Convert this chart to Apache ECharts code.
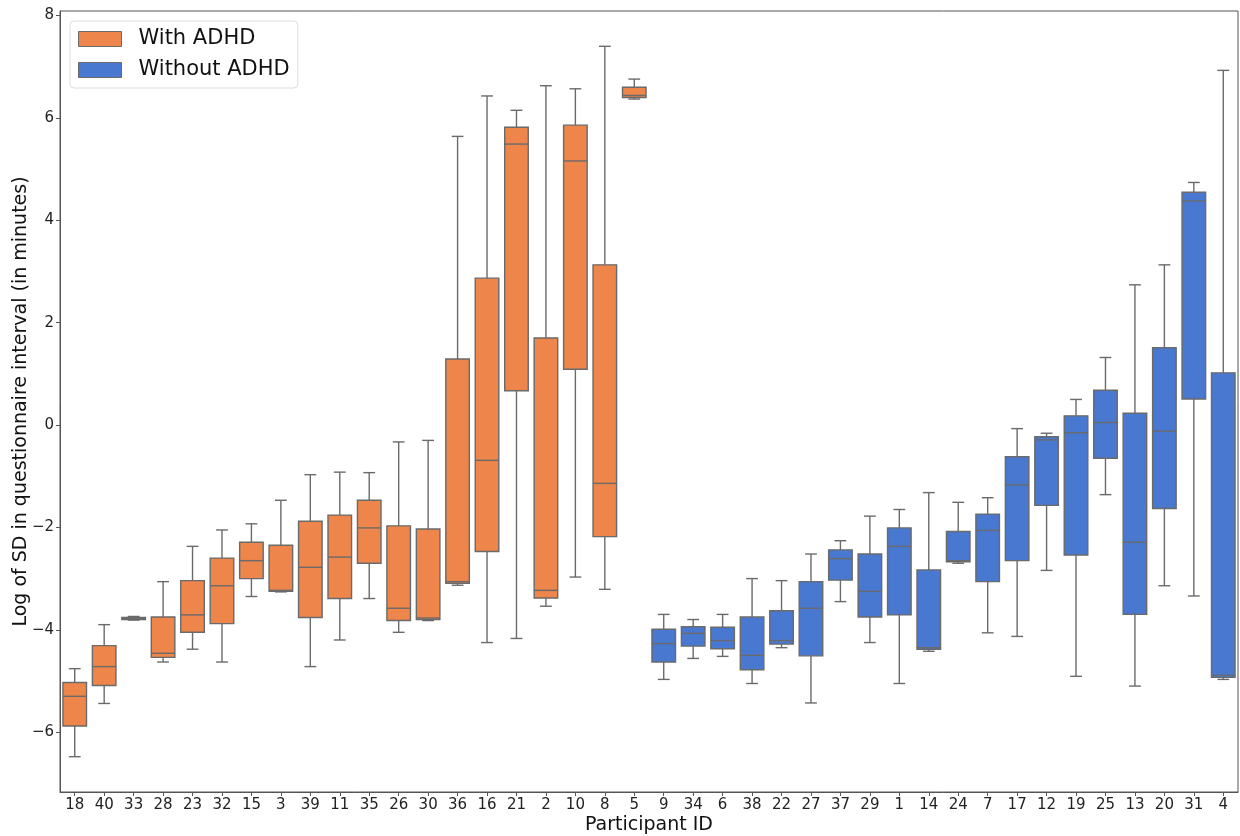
<!DOCTYPE html>
<html>
<head>
<meta charset="utf-8">
<script src="https://cdn.jsdelivr.net/npm/echarts@6/dist/echarts.min.js"></script>
<style>
  html, body { margin: 0; padding: 0; background: #fff; }
  #chart { width: 1240px; height: 836px; }
</style>
</head>
<body>
<div id="chart"></div>
<script>
// Participants with ADHD (box summaries: min, Q1, median, Q3, max of log SD)
const adhdIds    = ['18','40','33','28','23','32','15','3','39','11','35','26','30','36','16','21','2','10','8','5'];
const adhdMin    = [-6.48,-5.44,-3.81,-4.63,-4.38,-4.63,-3.35,-3.26,-4.72,-4.20,-3.39,-4.05,-3.82,-3.13,-4.25,-4.17,-3.54,-2.97,-3.21,6.37];
const adhdQ1     = [-5.88,-5.09,-3.80,-4.54,-4.05,-3.88,-3.00,-3.25,-3.76,-3.39,-2.70,-3.82,-3.80,-3.09,-2.47,0.67,-3.38,1.09,-2.18,6.40];
const adhdMedian = [-5.30,-4.72,-3.78,-4.46,-3.71,-3.14,-2.65,-3.23,-2.78,-2.58,-2.01,-3.58,-3.77,-3.06,-0.69,5.49,-3.23,5.16,-1.14,6.44];
const adhdQ3     = [-5.03,-4.31,-3.76,-3.75,-3.04,-2.60,-2.29,-2.35,-1.88,-1.76,-1.47,-1.97,-2.03,1.29,2.87,5.82,1.70,5.86,3.13,6.60];
const adhdMax    = [-4.76,-3.90,-3.74,-3.06,-2.37,-2.05,-1.93,-1.47,-0.97,-0.92,-0.93,-0.33,-0.30,5.64,6.43,6.15,6.63,6.57,7.40,6.76];

// Participants without ADHD
const ctrlIds    = ['9','34','6','38','22','27','37','29','1','14','24','7','17','12','19','25','13','20','31','4'];
const ctrlMin    = [-4.97,-4.56,-4.52,-5.05,-4.35,-5.43,-3.45,-4.25,-5.05,-4.42,-2.70,-4.06,-4.13,-2.84,-4.91,-1.36,-5.10,-3.14,-3.34,-4.97];
const ctrlQ1     = [-4.63,-4.32,-4.37,-4.78,-4.28,-4.51,-3.03,-3.75,-3.71,-4.38,-2.67,-3.06,-2.65,-1.57,-2.54,-0.65,-3.70,-1.63,0.51,-4.93];
const ctrlMedian = [-4.27,-4.07,-4.21,-4.50,-4.21,-3.58,-2.61,-3.25,-2.37,-4.35,-2.65,-2.06,-1.17,-0.29,-0.15,0.05,-2.29,-0.12,4.38,-4.89];
const ctrlQ3     = [-3.99,-3.94,-3.95,-3.75,-3.63,-3.06,-2.44,-2.52,-2.01,-2.83,-2.08,-1.74,-0.62,-0.23,0.18,0.68,0.23,1.51,4.55,1.02];
const ctrlMax    = [-3.70,-3.80,-3.70,-3.00,-3.04,-2.52,-2.26,-1.78,-1.65,-1.32,-1.51,-1.42,-0.07,-0.16,0.50,1.32,2.74,3.13,4.74,6.93];

const yTicks = [-6, -4, -2, 0, 2, 4, 6, 8];

const ORANGE = '#ee854a';
const BLUE = '#4878d0';
const LINE = '#6a6a6a';

const categories = adhdIds.concat(ctrlIds);

function buildRows(offset, mins, q1s, meds, q3s, maxs) {
  return mins.map((_, i) => [offset + i, mins[i], q1s[i], meds[i], q3s[i], maxs[i]]);
}
const adhdRows = buildRows(0, adhdMin, adhdQ1, adhdMedian, adhdQ3, adhdMax);
const ctrlRows = buildRows(adhdIds.length, ctrlMin, ctrlQ1, ctrlMedian, ctrlQ3, ctrlMax);

// One box: whiskers with short caps, filled box, median line
function renderBox(params, api) {
  const x = api.value(0);
  const band = api.size([1, 0])[0];
  const w = band * 0.8;
  const cap = w * 0.5;
  const pMin = api.coord([x, api.value(1)]);
  const pQ1 = api.coord([x, api.value(2)]);
  const pMed = api.coord([x, api.value(3)]);
  const pQ3 = api.coord([x, api.value(4)]);
  const pMax = api.coord([x, api.value(5)]);
  const cx = pMed[0];
  const fill = api.visual('color');
  const line = { stroke: LINE, lineWidth: 1.4 };
  return {
    type: 'group',
    children: [
      { type: 'line', shape: { x1: cx, y1: pQ3[1], x2: cx, y2: pMax[1] }, style: line },
      { type: 'line', shape: { x1: cx, y1: pQ1[1], x2: cx, y2: pMin[1] }, style: line },
      { type: 'line', shape: { x1: cx - cap / 2, y1: pMax[1], x2: cx + cap / 2, y2: pMax[1] }, style: line },
      { type: 'line', shape: { x1: cx - cap / 2, y1: pMin[1], x2: cx + cap / 2, y2: pMin[1] }, style: line },
      { type: 'rect', shape: { x: cx - w / 2, y: pQ3[1], width: w, height: pQ1[1] - pQ3[1] },
        style: { fill: fill, stroke: LINE, lineWidth: 1.4 } },
      { type: 'line', shape: { x1: cx - w / 2, y1: pMed[1], x2: cx + w / 2, y2: pMed[1] }, style: line }
    ]
  };
}

const chart = echarts.init(document.getElementById('chart'), null, { renderer: 'canvas' });

const fmtMinus = v => (v < 0 ? '\u2212' + Math.abs(v) : String(v));

chart.setOption({
  animation: false,
  backgroundColor: '#ffffff',
  textStyle: { fontFamily: 'DejaVu Sans' },
  grid: {
    left: 60, right: 2, top: 11, bottom: 44,
    containLabel: false,
    outerBoundsMode: 'none',
    show: true, borderColor: '#555', borderWidth: 1, backgroundColor: 'transparent'
  },
  legend: {
    orient: 'vertical',
    left: 70, top: 21,
    data: ['With ADHD', 'Without ADHD'],
    icon: 'rect',
    itemWidth: 43, itemHeight: 15, itemGap: 7,
    padding: [6, 8, 6, 8],
    borderColor: '#dddddd', borderWidth: 1, borderRadius: 4,
    backgroundColor: '#ffffff',
    itemStyle: { borderColor: LINE, borderWidth: 1 },
    textStyle: { fontSize: 21, color: '#111', fontFamily: 'DejaVu Sans', lineHeight: 24, padding: [0, 0, 0, 12] }
  },
  xAxis: {
    type: 'category',
    data: categories,
    boundaryGap: true,
    name: 'Participant ID',
    nameLocation: 'middle',
    nameGap: 24,
    nameMoveOverlap: false,
    nameTextStyle: { fontSize: 19, color: '#111', fontFamily: 'DejaVu Sans' },
    axisLine: { show: true, onZero: false, lineStyle: { color: '#555', width: 1 } },
    axisTick: { show: true, alignWithLabel: true, length: 4, lineStyle: { color: '#555' } },
    axisLabel: { fontSize: 15, color: '#222', margin: 6, interval: 0 },
    splitLine: { show: false }
  },
  yAxis: {
    type: 'value',
    min: -7.17, max: 8.09,
    name: 'Log of SD in questionnaire interval (in minutes)',
    nameLocation: 'middle',
    nameGap: 29,
    nameMoveOverlap: false,
    nameTextStyle: { fontSize: 19, color: '#111', fontFamily: 'DejaVu Sans' },
    axisLine: { show: true, onZero: false, lineStyle: { color: '#555', width: 1 } },
    axisTick: { show: true, length: 4, customValues: yTicks, lineStyle: { color: '#555' } },
    axisLabel: { fontSize: 15, color: '#222', margin: 6, customValues: yTicks, formatter: fmtMinus },
    splitLine: { show: false }
  },
  series: [
    {
      name: 'With ADHD',
      type: 'custom',
      renderItem: renderBox,
      itemStyle: { color: ORANGE, borderColor: LINE },
      encode: { x: 0, y: [1, 2, 3, 4, 5] },
      data: adhdRows
    },
    {
      name: 'Without ADHD',
      type: 'custom',
      renderItem: renderBox,
      itemStyle: { color: BLUE, borderColor: LINE },
      encode: { x: 0, y: [1, 2, 3, 4, 5] },
      data: ctrlRows
    }
  ]
});
</script>
</body>
</html>
